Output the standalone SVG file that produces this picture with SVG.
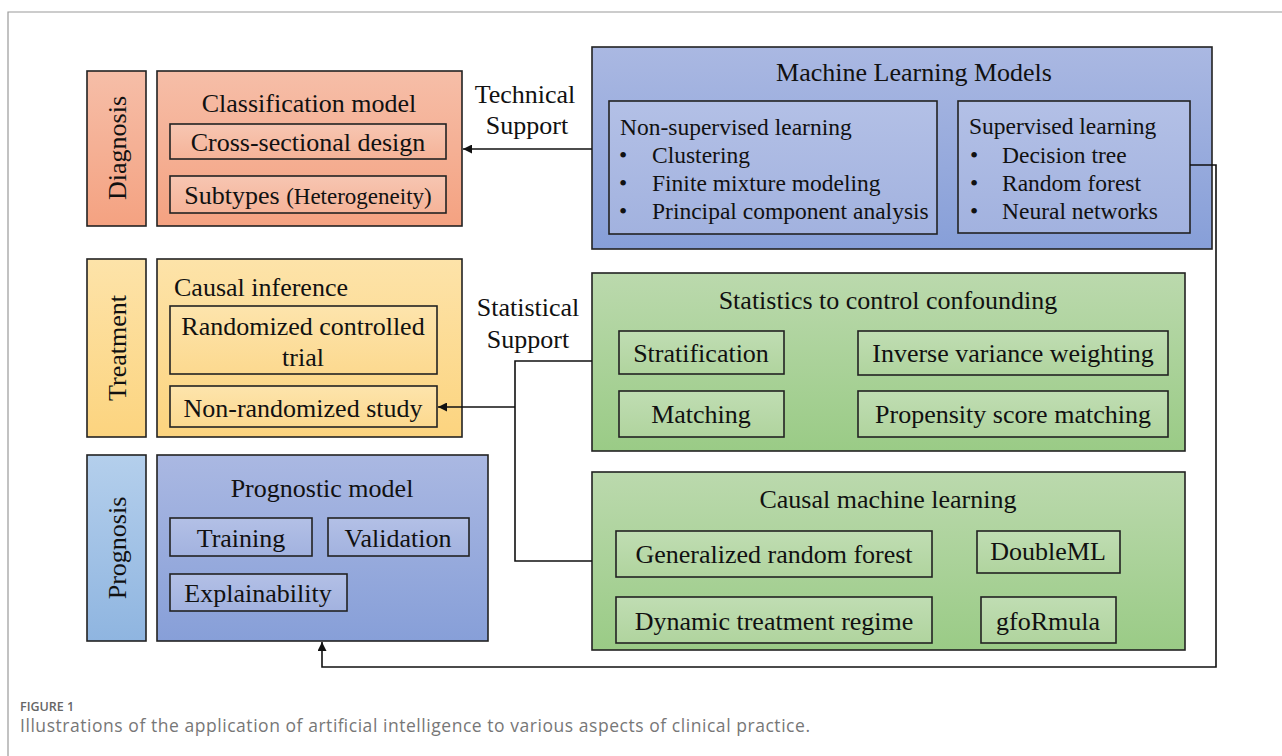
<svg xmlns="http://www.w3.org/2000/svg" width="1282" height="756" viewBox="0 0 1282 756">
<defs>
<linearGradient id="gSalmon" x1="0" y1="0" x2="0" y2="1"><stop offset="0" stop-color="#f6bea8"/><stop offset="1" stop-color="#f4a281"/></linearGradient>
<linearGradient id="gSalmonIn" x1="0" y1="0" x2="0" y2="1"><stop offset="0" stop-color="#f7c6b2"/><stop offset="1" stop-color="#f5b398"/></linearGradient>
<linearGradient id="gYellow" x1="0" y1="0" x2="0" y2="1"><stop offset="0" stop-color="#fde3a9"/><stop offset="1" stop-color="#fcd47f"/></linearGradient>
<linearGradient id="gYellowIn" x1="0" y1="0" x2="0" y2="1"><stop offset="0" stop-color="#fde4ac"/><stop offset="1" stop-color="#fcd98f"/></linearGradient>
<linearGradient id="gBlue" x1="0" y1="0" x2="0" y2="1"><stop offset="0" stop-color="#aab8e2"/><stop offset="1" stop-color="#879fd8"/></linearGradient>
<linearGradient id="gBlueIn" x1="0" y1="0" x2="0" y2="1"><stop offset="0" stop-color="#b3c0e6"/><stop offset="1" stop-color="#a2b2df"/></linearGradient>
<linearGradient id="gLtBlue" x1="0" y1="0" x2="0" y2="1"><stop offset="0" stop-color="#b4cfec"/><stop offset="1" stop-color="#8fb5e0"/></linearGradient>
<linearGradient id="gGreen" x1="0" y1="0" x2="0" y2="1"><stop offset="0" stop-color="#bbd9ad"/><stop offset="1" stop-color="#9acb86"/></linearGradient>
<linearGradient id="gGreenIn" x1="0" y1="0" x2="0" y2="1"><stop offset="0" stop-color="#c0ddb3"/><stop offset="1" stop-color="#b0d49e"/></linearGradient>
<marker id="arrow" viewBox="0 0 10 10" refX="10" refY="5" markerWidth="9" markerHeight="9" markerUnits="userSpaceOnUse" orient="auto"><path d="M0,0 L10,5 L0,10 z" fill="#111"/></marker>
<style>
.box{stroke:#222;stroke-width:1.6}
.t{font-family:"Liberation Serif","Times New Roman",serif;fill:#111;font-size:26px}
.m{text-anchor:middle}
.s{font-size:23.5px}
.conn{fill:none;stroke:#111;stroke-width:1.6}
.cap1{font-family:"Open Sans","Noto Sans",sans-serif;font-size:12.5px;font-weight:600;fill:#666}
.cap2{font-family:"Open Sans","Noto Sans",sans-serif;font-size:17.5px;fill:#777}
</style>
</defs>
<rect width="1282" height="756" fill="#fff"/>
<path d="M8,756 V12 H1282" fill="none" stroke="#9a9a9a" stroke-width="1.2"/>

<g id="diagnosis-label">
<rect class="box" x="87" y="71" width="59" height="155" fill="url(#gSalmon)"/>
<text class="t m" transform="translate(126,148) rotate(-90)">Diagnosis</text>
</g>
<g id="classification-model">
<rect class="box" x="157" y="71" width="305" height="155" fill="url(#gSalmon)"/>
<text class="t m" x="309" y="112">Classification model</text>
<rect class="box" x="170" y="124" width="276" height="35" fill="url(#gSalmonIn)"/>
<text class="t m" x="308" y="151">Cross-sectional design</text>
<rect class="box" x="170" y="176" width="276" height="37" fill="url(#gSalmonIn)"/>
<text class="t m" x="308" y="204">Subtypes <tspan font-size="23">(Heterogeneity)</tspan></text>
</g>

<g id="treatment-label">
<rect class="box" x="87" y="259" width="59" height="178" fill="url(#gYellow)"/>
<text class="t m" transform="translate(126,348) rotate(-90)">Treatment</text>
</g>
<g id="causal-inference">
<rect class="box" x="157" y="259" width="305" height="178" fill="url(#gYellow)"/>
<text class="t" x="174" y="296">Causal inference</text>
<rect class="box" x="170" y="306" width="267" height="68" fill="url(#gYellowIn)"/>
<text class="t m" x="303" y="335">Randomized controlled</text>
<text class="t m" x="303" y="366">trial</text>
<rect class="box" x="170" y="386" width="267" height="41" fill="url(#gYellowIn)"/>
<text class="t m" x="303" y="417">Non-randomized study</text>
</g>

<g id="prognosis-label">
<rect class="box" x="87" y="455" width="59" height="186" fill="url(#gLtBlue)"/>
<text class="t m" transform="translate(126,548) rotate(-90)">Prognosis</text>
</g>
<g id="prognostic-model">
<rect class="box" x="157" y="455" width="331" height="186" fill="url(#gBlue)"/>
<text class="t m" x="322" y="497">Prognostic model</text>
<rect class="box" x="170" y="518" width="142" height="38" fill="url(#gBlueIn)"/>
<text class="t m" x="241" y="547">Training</text>
<rect class="box" x="328" y="518" width="141" height="38" fill="url(#gBlueIn)"/>
<text class="t m" x="398" y="547">Validation</text>
<rect class="box" x="170" y="574" width="177" height="37" fill="url(#gBlueIn)"/>
<text class="t m" x="258" y="602">Explainability</text>
</g>

<g id="ml-models">
<rect class="box" x="592" y="47" width="620" height="202" fill="url(#gBlue)"/>
<text class="t m" x="914" y="81">Machine Learning Models</text>
<rect class="box" x="609" y="101" width="328" height="133" fill="url(#gBlueIn)"/>
<text class="t s" x="620" y="135">Non-supervised learning</text>
<text class="t s" x="619" y="163">•</text><text class="t s" x="652" y="163">Clustering</text>
<text class="t s" x="619" y="191">•</text><text class="t s" x="652" y="191">Finite mixture modeling</text>
<text class="t s" x="619" y="219">•</text><text class="t s" x="652" y="219">Principal component analysis</text>
<rect class="box" x="958" y="101" width="232" height="132" fill="url(#gBlueIn)"/>
<text class="t s" x="969" y="134">Supervised learning</text>
<text class="t s" x="970" y="163">•</text><text class="t s" x="1002" y="163">Decision tree</text>
<text class="t s" x="970" y="191">•</text><text class="t s" x="1002" y="191">Random forest</text>
<text class="t s" x="970" y="219">•</text><text class="t s" x="1002" y="219">Neural networks</text>
</g>

<g id="stats-confounding">
<rect class="box" x="592" y="273" width="593" height="178" fill="url(#gGreen)"/>
<text class="t m" x="888" y="309">Statistics to control confounding</text>
<rect class="box" x="619" y="331" width="165" height="43" fill="url(#gGreenIn)"/>
<text class="t m" x="701" y="362">Stratification</text>
<rect class="box" x="858" y="331" width="310" height="44" fill="url(#gGreenIn)"/>
<text class="t m" x="1013" y="362">Inverse variance weighting</text>
<rect class="box" x="619" y="391" width="165" height="46" fill="url(#gGreenIn)"/>
<text class="t m" x="701" y="423">Matching</text>
<rect class="box" x="858" y="391" width="310" height="46" fill="url(#gGreenIn)"/>
<text class="t m" x="1013" y="423">Propensity score matching</text>
</g>

<g id="causal-ml">
<rect class="box" x="592" y="472" width="593" height="178" fill="url(#gGreen)"/>
<text class="t m" x="888" y="508">Causal machine learning</text>
<rect class="box" x="616" y="531" width="316" height="46" fill="url(#gGreenIn)"/>
<text class="t m" x="774" y="563">Generalized random forest</text>
<rect class="box" x="977" y="531" width="143" height="42" fill="url(#gGreenIn)"/>
<text class="t m" x="1048" y="560">DoubleML</text>
<rect class="box" x="616" y="597" width="316" height="46" fill="url(#gGreenIn)"/>
<text class="t m" x="774" y="630">Dynamic treatment regime</text>
<rect class="box" x="981" y="597" width="135" height="46" fill="url(#gGreenIn)"/>
<text class="t m" x="1048" y="630">gfoRmula</text>
</g>

<g id="connectors">
<path class="conn" d="M592,149 H463" marker-end="url(#arrow)"/>
<path class="conn" d="M592,361 H515 V561 H592"/>
<path class="conn" d="M515,407 H438" marker-end="url(#arrow)"/>
<path class="conn" d="M1190,165 H1216 V667 H322 V642" marker-end="url(#arrow)"/>
</g>

<g id="labels">
<text class="t m" x="525" y="103">Technical</text>
<text class="t m" x="527" y="134">Support</text>
<text class="t m" x="528" y="316">Statistical</text>
<text class="t m" x="528" y="348">Support</text>
</g>

<g id="caption">
<text class="cap1" x="20" y="711">FIGURE 1</text>
<text class="cap2" x="20" y="732" textLength="790" lengthAdjust="spacing">Illustrations of the application of artificial intelligence to various aspects of clinical practice.</text>
</g>
</svg>
